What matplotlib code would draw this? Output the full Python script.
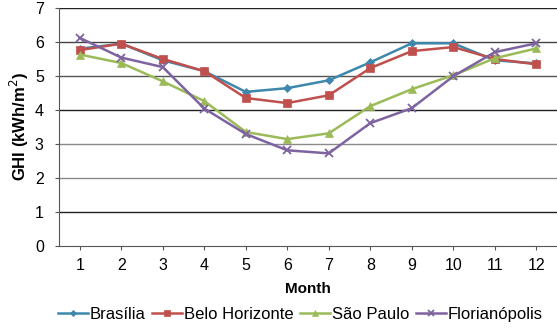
import matplotlib; matplotlib.use("Agg")
import matplotlib.pyplot as plt

plt.rcParams.update({
    "font.family": ["Liberation Sans", "DejaVu Sans"], "font.size": 10,
    "axes.spines.top": False, "axes.spines.right": False,
})

months = list(range(1, 13))
brasilia = [5.80, 5.95, 5.46, 5.14, 4.53, 4.64, 4.87, 5.40, 5.96, 5.96, 5.46, 5.37]
belo_horizonte = [5.76, 5.95, 5.50, 5.14, 4.35, 4.20, 4.43, 5.23, 5.73, 5.85, 5.50, 5.34]
sao_paulo = [5.63, 5.38, 4.84, 4.26, 3.35, 3.14, 3.31, 4.11, 4.61, 5.02, 5.52, 5.81]
florianopolis = [6.12, 5.54, 5.26, 4.04, 3.29, 2.81, 2.72, 3.61, 4.05, 4.99, 5.70, 5.96]

series = [
    ("Brasília", brasilia, "#3f88ad", "D", 4.5),
    ("Belo Horizonte", belo_horizonte, "#c0504d", "s", 5.5),
    ("São Paulo", sao_paulo, "#9bbb59", "^", 6),
    ("Florianópolis", florianopolis, "#7d64a0", "x", 6),
]

fig = plt.figure(figsize=(5.57, 3.33), dpi=100)
ax = fig.add_axes([0.106, 0.262, 0.894, 0.714])

for name, vals, col, mk, ms in series:
    ax.plot(months, vals, color=col, lw=1.8, marker=mk, markersize=ms,
            markeredgewidth=1.3 if mk == "x" else 0.5, label=name)

ax.set_xlim(0.5, 12.5)
ax.set_ylim(0, 7)
ax.set_xticks(months)
ax.set_yticks(range(0, 8))
for v, c in zip(range(1, 8), ["#222222", "#8a8a8a", "#8a8a8a", "#222222", "#555555", "#444444", "#222222"]):
    ax.axhline(v, color=c, lw=1.0, zorder=0)
ax.spines["left"].set_color("#555555")
ax.spines["bottom"].set_color("#555555")
ax.tick_params(axis="both", colors="#555555", labelcolor="black", length=3, labelsize=11.5)
ax.tick_params(axis="x", pad=6)
ax.tick_params(axis="y", pad=8)

ax.set_xlabel("Month", fontweight="bold", fontsize=11, labelpad=6)
ax.set_ylabel("GHI (kWh/m$^2$)", fontweight="bold", fontsize=12, labelpad=3)

ax.legend(loc="center", bbox_to_anchor=(0.484, -0.29), ncol=4, frameon=False,
          fontsize=12, handlelength=1.8, handletextpad=0.1, columnspacing=0.4,
          markerscale=0.7, borderaxespad=0)

fig.savefig("out.png", dpi=100)
